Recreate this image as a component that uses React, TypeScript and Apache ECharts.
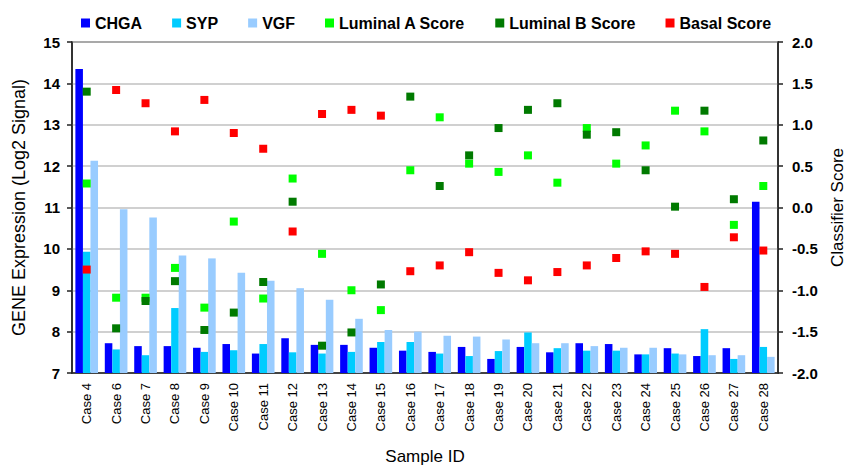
import React, { useEffect, useRef } from "react";
import * as echarts from "echarts";

const categories = [
  "Case 4", "Case 6", "Case 7", "Case 8", "Case 9", "Case 10", "Case 11", "Case 12",
  "Case 13", "Case 14", "Case 15", "Case 16", "Case 17", "Case 18", "Case 19", "Case 20",
  "Case 21", "Case 22", "Case 23", "Case 24", "Case 25", "Case 26", "Case 27", "Case 28",
];

const chga = [14.35, 7.72, 7.65, 7.65, 7.61, 7.70, 7.47, 7.84, 7.68, 7.68, 7.61, 7.54, 7.51, 7.63, 7.34, 7.63, 7.50, 7.72, 7.70, 7.45, 7.60, 7.41, 7.60, 11.14];
const syp = [9.93, 7.57, 7.43, 8.57, 7.51, 7.55, 7.70, 7.50, 7.47, 7.51, 7.75, 7.75, 7.47, 7.41, 7.53, 7.98, 7.60, 7.54, 7.54, 7.45, 7.47, 8.06, 7.34, 7.63];
const vgf = [12.13, 10.96, 10.76, 9.84, 9.77, 9.42, 9.23, 9.05, 8.77, 8.31, 8.04, 8.00, 7.90, 7.88, 7.81, 7.72, 7.72, 7.65, 7.61, 7.61, 7.45, 7.43, 7.43, 7.39];

const lumA = [0.29, -1.09, -1.09, -0.73, -1.21, -0.17, -1.10, 0.35, -0.56, -1.00, -1.24, 0.45, 1.09, 0.53, 0.43, 0.63, 0.30, 0.96, 0.53, 0.75, 1.17, 0.92, -0.21, 0.26];
const lumB = [1.40, -1.46, -1.13, -0.89, -1.48, -1.27, -0.90, 0.07, -1.67, -1.51, -0.93, 1.34, 0.26, 0.63, 0.96, 1.18, 1.26, 0.88, 0.91, 0.45, 0.01, 1.17, 0.10, 0.81];
const basal = [-0.75, 1.42, 1.26, 0.92, 1.30, 0.90, 0.71, -0.29, 1.13, 1.18, 1.11, -0.77, -0.70, -0.54, -0.79, -0.88, -0.78, -0.70, -0.61, -0.53, -0.56, -0.96, -0.36, -0.52];

const FONT = "'Liberation Sans', Arial, sans-serif";

export default function App() {
  const ref = useRef<HTMLDivElement>(null);
  useEffect(() => {
    if (!ref.current) return;
    const chart = echarts.init(ref.current, null, { renderer: "svg" });
    const barSeries = (name: string, data: number[], color: string) => ({
      name,
      type: "bar",
      data,
      yAxisIndex: 0,
      barGap: "0%",
      barCategoryGap: "23%",
      itemStyle: { color },
      z: 2,
    });
    const scatterSeries = (name: string, data: number[], color: string) => ({
      name,
      type: "scatter",
      data,
      yAxisIndex: 1,
      symbol: "rect",
      symbolSize: 8,
      itemStyle: { color, opacity: 1 },
      z: 5,
    });
    chart.setOption({
      animation: false,
      textStyle: { fontFamily: FONT },
      legend: {
        top: 10,
        left: 76,
        itemWidth: 9,
        itemHeight: 9,
        itemGap: 30,
        icon: "rect",
        textStyle: { fontFamily: FONT, fontSize: 16, fontWeight: "bold", color: "#000" },
        data: ["CHGA", "SYP", "VGF", "Luminal A Score", "Luminal B Score", "Basal Score"],
      },
      grid: {
        left: 72,
        right: 70,
        top: 42,
        bottom: 92,
        outerBoundsMode: "none",
        show: true,
        borderColor: "#333",
        borderWidth: 1.5,
      },
      xAxis: {
        type: "category",
        data: categories,
        axisLine: { onZero: false, lineStyle: { color: "#222", width: 1.5 } },
        axisTick: { show: false },
        axisLabel: {
          rotate: 90,
          interval: 0,
          margin: 10,
          fontFamily: FONT,
          fontSize: 13,
          color: "#000",
        },
        name: "Sample ID",
        nameLocation: "middle",
        nameGap: 75,
        nameMoveOverlap: false,
        nameTextStyle: { fontFamily: FONT, fontSize: 17, color: "#000" },
      },
      yAxis: [
        {
          type: "value",
          min: 7,
          max: 15,
          interval: 1,
          position: "left",
          axisLine: { show: true, lineStyle: { color: "#222", width: 1.5 } },
          axisTick: { show: true, length: 5, lineStyle: { color: "#222", width: 1.5 } },
          axisLabel: { margin: 12, fontFamily: FONT, fontSize: 15, fontWeight: "bold", color: "#000" },
          splitLine: { show: true, lineStyle: { color: "#c0c0c0", width: 1.5 } },
          name: "GENE Expression (Log2 Signal)",
          nameLocation: "middle",
          nameGap: 44,
          nameMoveOverlap: false,
          nameTextStyle: { fontFamily: FONT, fontSize: 18, color: "#000" },
        },
        {
          type: "value",
          min: -2,
          max: 2,
          interval: 0.5,
          position: "right",
          axisLine: { show: true, lineStyle: { color: "#222", width: 1.5 } },
          axisTick: { show: true, length: 5, lineStyle: { color: "#222", width: 1.5 } },
          axisLabel: {
            margin: 14,
            fontFamily: FONT,
            fontSize: 15,
            fontWeight: "bold",
            color: "#000",
            formatter: (v: number) => v.toFixed(1),
          },
          splitLine: { show: false },
          name: "Classifier Score",
          nameLocation: "middle",
          nameGap: 51,
          nameRotate: 90,
          nameMoveOverlap: false,
          nameTextStyle: { fontFamily: FONT, fontSize: 17, color: "#000" },
        },
      ],
      series: [
        barSeries("CHGA", chga, "#0000FF"),
        barSeries("SYP", syp, "#00CCFF"),
        barSeries("VGF", vgf, "#99CCFF"),
        scatterSeries("Luminal A Score", lumA, "#00FF00"),
        scatterSeries("Luminal B Score", lumB, "#007A00"),
        scatterSeries("Basal Score", basal, "#FF0000"),
      ],
    });
    return () => chart.dispose();
  }, []);
  return (
    <div
      ref={ref}
      style={{ position: "absolute", left: 0, top: 0, width: 848, height: 465 }}
    />
  );
}
